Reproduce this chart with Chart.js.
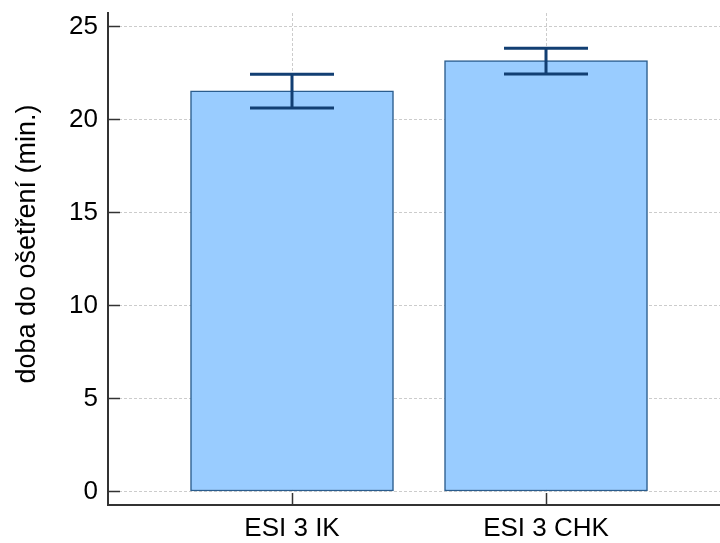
<!DOCTYPE html>
<html>
<head>
<meta charset="utf-8">
<script src="https://cdn.jsdelivr.net/npm/chart.js@4/dist/chart.umd.min.js"></script>
<style>
  html, body { margin: 0; padding: 0; background: #fff; }
  #wrap { width: 720px; height: 543px; }
</style>
</head>
<body>
<div id="wrap"><canvas id="graf" width="720" height="543"></canvas></div>
<script>
const kategorie = ['ESI 3 IK', 'ESI 3 CHK'];
const prumery = [21.56, 23.19];
const dolniMez = [20.64, 22.47];
const horniMez = [22.45, 23.85];
const yTicky = [0, 5, 10, 15, 20, 25];
const osaY = 'doba do ošetření (min.)';

const rodina = "'Liberation Sans', Arial, sans-serif";
const pismo = { family: rodina, size: 26 };

// chybove useky kreslene pres skaly grafu
const chybovePlugin = {
  id: 'chyby',
  afterDatasetsDraw(chart) {
    const { ctx, scales: { x, y } } = chart;
    ctx.save();
    ctx.strokeStyle = '#123f73';
    ctx.lineWidth = 3;
    kategorie.forEach((k, i) => {
      const px = x.getPixelForValue(i + 1);
      const top = y.getPixelForValue(horniMez[i]);
      const bot = y.getPixelForValue(dolniMez[i]);
      ctx.beginPath();
      ctx.moveTo(px, top); ctx.lineTo(px, bot);
      ctx.moveTo(px - 42, top); ctx.lineTo(px + 42, top);
      ctx.moveTo(px - 42, bot); ctx.lineTo(px + 42, bot);
      ctx.stroke();
    });
    ctx.restore();
  }
};

// popisek osy y, posunuty trochu nad stred jako v predloze
const titulekPlugin = {
  id: 'titulek',
  afterDraw(chart) {
    const { ctx, chartArea } = chart;
    ctx.save();
    ctx.translate(28, (chartArea.top + chartArea.bottom) / 2 - 15);
    ctx.rotate(-Math.PI / 2);
    ctx.font = '27px ' + rodina;
    ctx.fillStyle = '#000';
    ctx.textAlign = 'center';
    ctx.textBaseline = 'middle';
    ctx.fillText(osaY, 0, 0);
    ctx.restore();
  }
};

new Chart(document.getElementById('graf'), {
  type: 'bar',
  data: {
    datasets: [{
      data: prumery.map((v, i) => ({ x: i + 1, y: v })),
      backgroundColor: '#99ccff',
      borderColor: '#2b5d8e',
      borderWidth: 1.5,
      borderSkipped: false,
      barThickness: 203
    }]
  },
  options: {
    responsive: false,
    animation: false,
    devicePixelRatio: 1,
    layout: { padding: { top: 13, right: 0, left: 0, bottom: 0 } },
    plugins: { legend: { display: false }, tooltip: { enabled: false } },
    scales: {
      x: {
        type: 'linear',
        offset: false,
        min: 0.2756,
        max: 2.685,
        afterBuildTicks: s => { s.ticks = kategorie.map((k, i) => ({ value: i + 1 })); },
        afterFit: s => { s.height = 38; s.paddingLeft = 0; s.paddingRight = 0; },
        ticks: {
          callback: v => kategorie[v - 1],
          font: pismo, color: '#000', padding: 20, maxRotation: 0, autoSkip: false
        },
        grid: { offset: false, color: '#cccccc', lineWidth: 1, tickLength: -12, tickColor: '#333', tickWidth: 1.5, tickBorderDash: [] },
        border: { color: '#333', width: 2, dash: [3, 2] }
      },
      y: {
        min: -0.727,
        max: 25.75,
        afterBuildTicks: s => { s.ticks = yTicky.map(v => ({ value: v })); },
        afterFit: s => { s.width = 108; s.paddingTop = 0; s.paddingBottom = 0; },
        ticks: { font: pismo, color: '#000', padding: 22 },
        grid: { color: '#cccccc', lineWidth: 1, tickLength: -12, tickColor: '#333', tickWidth: 1.5, tickBorderDash: [] },
        border: { color: '#333', width: 2, dash: [3, 2] }
      }
    }
  },
  plugins: [chybovePlugin, titulekPlugin]
});
</script>
</body>
</html>
